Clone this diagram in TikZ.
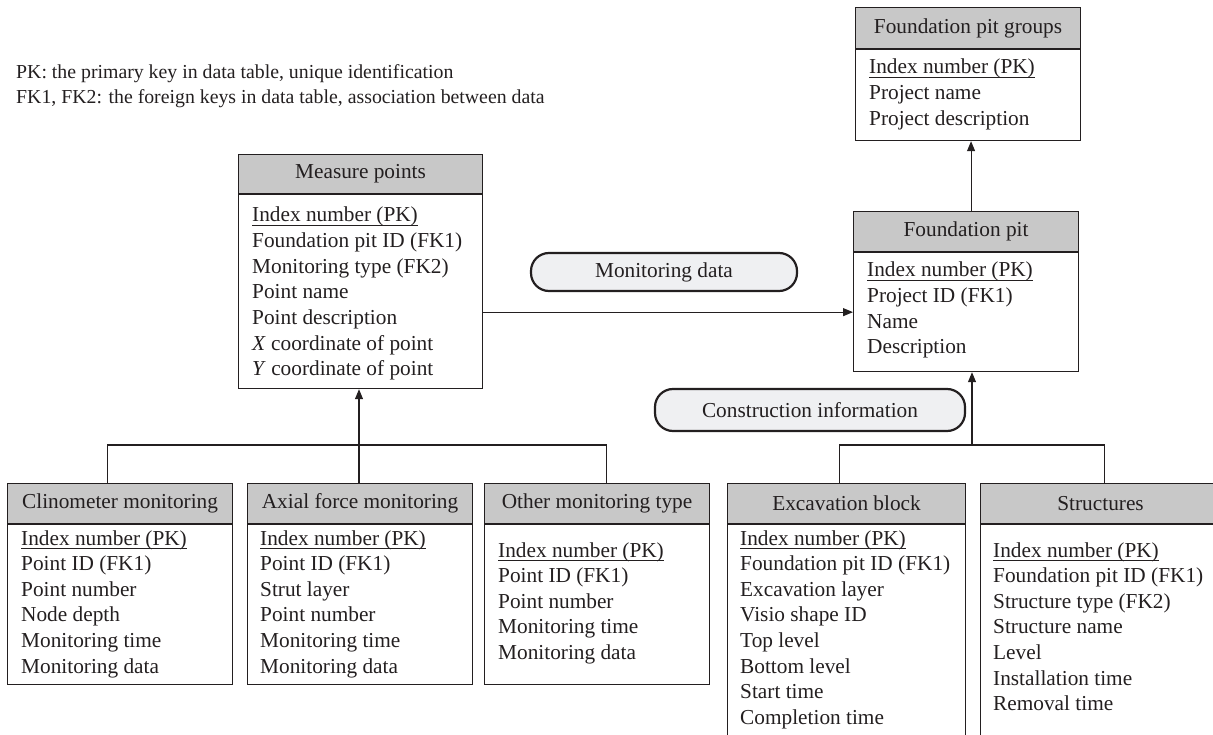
\documentclass[tikz,border=0pt]{standalone}
\usepackage{fontspec}
\setmainfont{Liberation Serif}
\usetikzlibrary{arrows.meta,calc}
\definecolor{linec}{HTML}{231F20}
\definecolor{hdrgray}{HTML}{C8C8C8}
\definecolor{pillfill}{HTML}{EFF0F2}
\newcommand\tabfont{\fontsize{21.3}{26}\selectfont}
\newcommand\legfont{\fontsize{19.8}{24}\selectfont}
\newcommand\pkul[1]{\setbox0\hbox{#1}\rlap{\rule[-3.5pt]{\wd0}{0.9pt}}\box0}
\tikzset{
 hdr/.style={draw=linec, fill=hdrgray, line width=1.1pt, anchor=north west, inner sep=0pt, font=\tabfont, text=linec},
 bodyb/.style={draw=linec, line width=1.1pt, anchor=north west, inner sep=0pt},
 txt/.style={anchor=base west, inner sep=0pt, font=\tabfont, text=linec},
 legtxt/.style={anchor=base west, inner sep=0pt, font=\legfont, text=linec},
 pill/.style={draw=linec, fill=pillfill, line width=2.2pt, rounded corners=18pt, inner sep=0pt, font=\tabfont, text=linec},
 arr/.style={draw=linec, line width=1.1pt, -{Triangle[length=10pt,width=8pt]}},
 conn/.style={draw=linec, line width=1.1pt}
}
% name, x, top, width, header height, body height, title
\newcommand\erbox[7]{%
 \node[hdr, minimum width=#4pt, minimum height=#5pt] (#1h) at (#2,#3) {#7};
 \node[bodyb, minimum width=#4pt, minimum height=#6pt] (#1b) at (#1h.south west) {};
}
% name, x, first baseline, list
\newcommand\erlines[4]{%
 \foreach \t [count=\i from 0] in {#4} {\node[txt] (#1l\i) at (#2, #3+25.6*\i) {\t};}
}
\begin{document}
\begin{tikzpicture}[x=1pt,y=-1pt]
\useasboundingbox (0,0) rectangle (1213,735);
\clip (0,0) rectangle (1213,735);
% legend
\node[legtxt] (leg1) at (16,79) {PK: the primary key in data table, unique identification};
\node[legtxt] (leg2) at (16,104) {FK1, FK2: the foreign keys in data table, association between data};
% tables
\erbox{gr}{855}{7}{225}{41}{91}{Foundation pit groups}
\erlines{gr}{869}{74}{\pkul{Index number (PK)},Project name,Project description}
\erbox{fp}{853}{211}{225}{40}{119}{Foundation pit}
\erlines{fp}{867}{277}{\pkul{Index number (PK)},Project ID (FK1),Name,Description}
\erbox{mp}{238}{154}{244}{39}{194}{Measure points}
\erlines{mp}{252}{222}{\pkul{Index number (PK)},Foundation pit ID (FK1),Monitoring type (FK2),Point name,Point description,\textit{X} coordinate of point,\textit{Y} coordinate of point}
\erbox{cm}{7}{483}{225}{40}{160}{Clinometer monitoring}
\erlines{cm}{21}{545}{\pkul{Index number (PK)},Point ID (FK1),Point number,Node depth,Monitoring time,Monitoring data}
\erbox{ax}{247}{483}{225}{40}{160}{Axial force monitoring}
\erlines{ax}{260}{545}{\pkul{Index number (PK)},Point ID (FK1),Strut layer,Point number,Monitoring time,Monitoring data}
\erbox{ot}{484}{483}{225}{40}{160}{Other monitoring type}
\erlines{ot}{498}{557}{\pkul{Index number (PK)},Point ID (FK1),Point number,Monitoring time,Monitoring data}
\erbox{ex}{727}{483}{238}{40}{240}{Excavation block}
\erlines{ex}{740}{545}{\pkul{Index number (PK)},Foundation pit ID (FK1),Excavation layer,Visio shape ID,Top level,Bottom level,Start time,Completion time}
\erbox{st}{980}{483}{240}{40}{240}{Structures}
\erlines{st}{993}{557}{\pkul{Index number (PK)},Foundation pit ID (FK1),Structure type (FK2),Structure name,Level,Installation time,Removal time}
% pills
\node[pill, minimum width=266pt, minimum height=38pt] (md) at (664,272) {Monitoring data};
\node[pill, minimum width=310pt, minimum height=42pt] (ci) at (810,410) {Construction information};
% connectors
\draw[arr] ([xshift=5pt]fph.north) -- ([xshift=5pt]fph.north |- grb.south);
\draw[arr] (mpb.east |- fpb.west) -- (fpb.west);
\coordinate (j1) at (359,445);
\coordinate (j2) at (972,445);
\draw[arr] (j1) -- (j1 |- mpb.south);
\draw[conn] ([xshift=-12.5pt]cmh.north) |- ([xshift=9.5pt]oth.north |- j1) -- ([xshift=9.5pt]oth.north);
\draw[conn] (j1 |- axh.north) -- (j1);
\draw[arr] (j2) -- (j2 |- fpb.south);
\draw[conn] ([xshift=-7pt]exh.north) |- ([xshift=4pt]sth.north |- j2) -- ([xshift=4pt]sth.north);
\end{tikzpicture}
\end{document}
